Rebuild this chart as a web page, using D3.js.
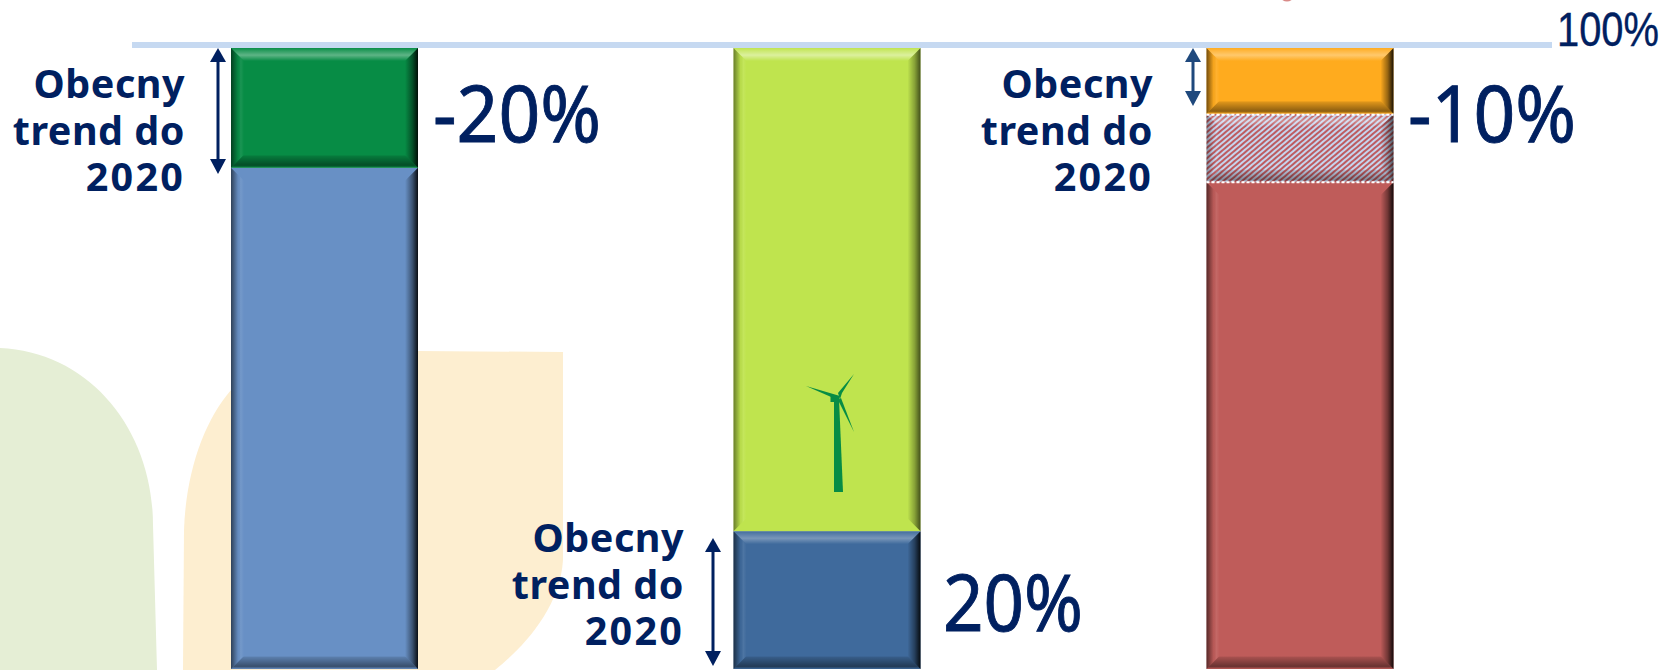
<!DOCTYPE html>
<html>
<head>
<meta charset="utf-8">
<script src="https://cdn.jsdelivr.net/npm/d3@7"></script>
<style>
  html, body { margin: 0; padding: 0; background: #fff; overflow: hidden; }
  svg { display: block; }
</style>
</head>
<body>
<div id="chart"></div>
<script>
// stacks, top of each stack is 100
var categories = ['emisje', 'oze', 'efektywnosc'];
var lowerValues = [80.7, 22.2, 78.4];
var hatchedValues = [0, 0, 11];
var upperValues = [19.3, 77.8, 10.6];
var lowerColors = ['#6890c5', '#3f6a9c', '#bf5c5a'];
var upperColors = ['#078c45', '#bfe44e', '#ffab1e'];
var bigLabels = ['-20%', '20%', '-10%'];
var trendLines = ['Obecny', 'trend do', '2020'];

var width = 1670, height = 670;
var navy = '#002060';

var svg = d3.select('#chart').append('svg')
  .attr('width', width)
  .attr('height', height);

var defs = svg.append('defs');

var y = d3.scaleLinear().domain([0, 100]).range([669, 48]);
// bars are not evenly spaced on the slide
var x = d3.scaleOrdinal().domain(categories).range([324.5, 827, 1300]);
var barWidth = 187;

// hatch for the middle piece of the last bar
var hatch = defs.append('pattern')
  .attr('id', 'hatch')
  .attr('width', 4)
  .attr('height', 4)
  .attr('patternUnits', 'userSpaceOnUse')
  .attr('patternTransform', 'rotate(-40)');
hatch.append('rect').attr('width', 4).attr('height', 4).attr('fill', '#c6d5ee');
hatch.append('rect').attr('width', 4).attr('height', 2).attr('fill', '#bd5b60');

// bevel gradient from the outer edge (offset 0) to the inner edge (offset 1)
var gradCount = 0;
var dirs = {
  top: [0, 0, 0, 1], bottom: [0, 1, 0, 0],
  left: [0, 0, 1, 0], right: [1, 0, 0, 0]
};
function bevelGradient(side, stops) {
  var id = 'bevel' + (gradCount++);
  var g = defs.append('linearGradient').attr('id', id)
    .attr('x1', dirs[side][0]).attr('y1', dirs[side][1])
    .attr('x2', dirs[side][2]).attr('y2', dirs[side][3]);
  stops.forEach(function(s) {
    g.append('stop')
      .attr('offset', s[0])
      .attr('stop-color', s[1])
      .attr('stop-opacity', s[2]);
  });
  return 'url(#' + id + ')';
}

function drawBlock(cat, v0, v1, fill, opt) {
  opt = opt || {};
  var b = 13;
  var x0 = x(cat) - barWidth / 2, x1 = x0 + barWidth;
  var y0 = y(v1), y1 = y(v0);
  var left = opt.left === undefined ? 0.55 : opt.left;
  var right = opt.right === undefined ? 0.9 : opt.right;
  var top = opt.top === undefined ? 0.35 : opt.top;
  var bottom = opt.bottom === undefined ? 0.45 : opt.bottom;
  var g = svg.append('g').attr('class', 'block');
  g.append('rect')
    .attr('x', x0).attr('y', y0)
    .attr('width', barWidth).attr('height', y1 - y0)
    .attr('fill', fill);
  if (left > 0) {
    g.append('polygon')
      .attr('points', [[x0, y0], [x0 + b, y0 + b], [x0 + b, y1 - b], [x0, y1]].join(' '))
      .attr('fill', bevelGradient('left', [[0, '#000', left], [0.55, '#000', 0.03], [0.75, '#fff', 0.08], [1, '#fff', 0]]));
  }
  if (right > 0) {
    g.append('polygon')
      .attr('points', [[x1, y0], [x1 - b, y0 + b], [x1 - b, y1 - b], [x1, y1]].join(' '))
      .attr('fill', bevelGradient('right', [[0, '#000', right], [0.45, '#000', right * 0.45], [1, '#000', 0]]));
  }
  if (top > 0) {
    g.append('polygon')
      .attr('points', [[x0, y0], [x1, y0], [x1 - b, y0 + b], [x0 + b, y0 + b]].join(' '))
      .attr('fill', bevelGradient('top', [[0, '#fff', 0.02], [0.55, '#fff', top], [1, '#fff', 0]]));
  }
  if (bottom > 0) {
    g.append('polygon')
      .attr('points', [[x0, y1], [x1, y1], [x1 - b, y1 - b], [x0 + b, y1 - b]].join(' '))
      .attr('fill', bevelGradient('bottom', [[0, '#000', 0.02], [0.2, '#000', bottom], [0.9, '#000', bottom * 0.3], [1, '#000', 0]]));
  }
  return g;
}

// background shapes
svg.append('path')
  .attr('d', 'M0,348 C90,352 153,430 153,525 L157,670 L0,670 Z')
  .attr('fill', '#e5eed5');
svg.append('path')
  .attr('d', 'M183,670 L184,530 C186,470 205,420 231,390 L418,351 L563,352 L563,560 C560,610 520,650 495,670 Z')
  .attr('fill', '#fdeed0');

// reference line
svg.append('rect')
  .attr('x', 132).attr('y', y(100) - 6)
  .attr('width', 1420).attr('height', 6)
  .attr('fill', '#c6d9f1');
svg.append('text')
  .attr('x', 1557).attr('y', 46)
  .attr('textLength', 102).attr('lengthAdjust', 'spacingAndGlyphs')
  .attr('font-family', '"Liberation Sans"').attr('font-size', 49)
  .attr('fill', navy)
  .attr('stroke', navy).attr('stroke-width', 0.4)
  .text('100%');

// scrap of a shape cut off by the top of the picture
svg.append('ellipse')
  .attr('cx', 1287).attr('cy', -3).attr('rx', 6).attr('ry', 4.5)
  .attr('fill', '#d98a88');

// bars
categories.forEach(function(cat, i) {
  var low = lowerValues[i], mid = hatchedValues[i], up = upperValues[i];
  drawBlock(cat, 0, low, lowerColors[i], i === 1 ? {top: 0.3} : {top: 0});
  if (mid > 0) {
    drawBlock(cat, low, low + mid, 'url(#hatch)', {top: 0.3, right: 0.6, left: 0.35, bottom: 0.35});
  }
  drawBlock(cat, low + mid, low + mid + up, upperColors[i], i === 1 ? {bottom: 0, left: 0.45, right: 0.65, top: 0.45} : {});
});

// thin dashed lines on the hatched block
var xBar3 = x('efektywnosc') - barWidth / 2;
[lowerValues[2], lowerValues[2] + hatchedValues[2]].forEach(function(v, i) {
  svg.append('line')
    .attr('x1', xBar3).attr('x2', xBar3 + barWidth)
    .attr('y1', y(v) + (i ? 1 : 0)).attr('y2', y(v) + (i ? 1 : 0))
    .attr('stroke', '#fff').attr('stroke-width', 2).attr('stroke-dasharray', '3 2');
});

// turbine on the green bar
var turbine = svg.append('g').attr('fill', '#078c45');
turbine.append('path').attr('d', 'M834,399 L839,399 L843,492 L834,492 Z');
turbine.append('rect').attr('x', 830.5).attr('y', 396).attr('width', 9).attr('height', 6);
turbine.append('path').attr('d', 'M806,386 L840,396 L838,400 Z');
turbine.append('path').attr('d', 'M854,374 L842,393 L840,399 L838,393 Z');
turbine.append('path').attr('d', 'M854,432 L838,400 L841,398 Z');

// arrows
function arrow(ax, y0, y1, color) {
  var g = svg.append('g').attr('fill', color);
  g.append('rect').attr('x', ax - 1.5).attr('y', y0 + 10).attr('width', 3).attr('height', y1 - y0 - 20);
  g.append('path').attr('d', 'M' + ax + ',' + y0 + ' L' + (ax + 8) + ',' + (y0 + 14) + ' L' + (ax - 8) + ',' + (y0 + 14) + ' Z');
  g.append('path').attr('d', 'M' + ax + ',' + y1 + ' L' + (ax + 8) + ',' + (y1 - 15) + ' L' + (ax - 8) + ',' + (y1 - 15) + ' Z');
}
arrow(218, 48, 174, navy);
arrow(1193, 48, 106, '#1f497d');
arrow(713, 538, 666, navy);

// text blocks
function trendText(right, base) {
  var t = svg.append('text')
    .attr('text-anchor', 'end')
    .attr('font-family', '"Noto Sans"')
    .attr('font-weight', 700)
    .attr('font-size', 39.5)
    .attr('fill', navy);
  trendLines.forEach(function(line, i) {
    // digits are wider in the original face
    t.append('tspan')
      .attr('x', right)
      .attr('y', base + i * 46.5)
      .attr('letter-spacing', i === 2 ? 2.2 : 0.5)
      .text(line);
  });
}
trendText(185, 98);
trendText(1153, 98);
trendText(684, 552);

function bigText(label, left, base, len) {
  svg.append('text')
    .attr('x', left).attr('y', base)
    .attr('textLength', len).attr('lengthAdjust', 'spacingAndGlyphs')
    .attr('font-family', '"Noto Sans"').attr('font-size', 78)
    .attr('fill', navy)
    .attr('stroke', navy).attr('stroke-width', 0.9)
    .text(label);
}
bigText(bigLabels[0], 433, 142, 168);
bigText(bigLabels[1], 943, 631, 140);
bigText(bigLabels[2], 1408, 142, 168);
</script>
</body>
</html>
